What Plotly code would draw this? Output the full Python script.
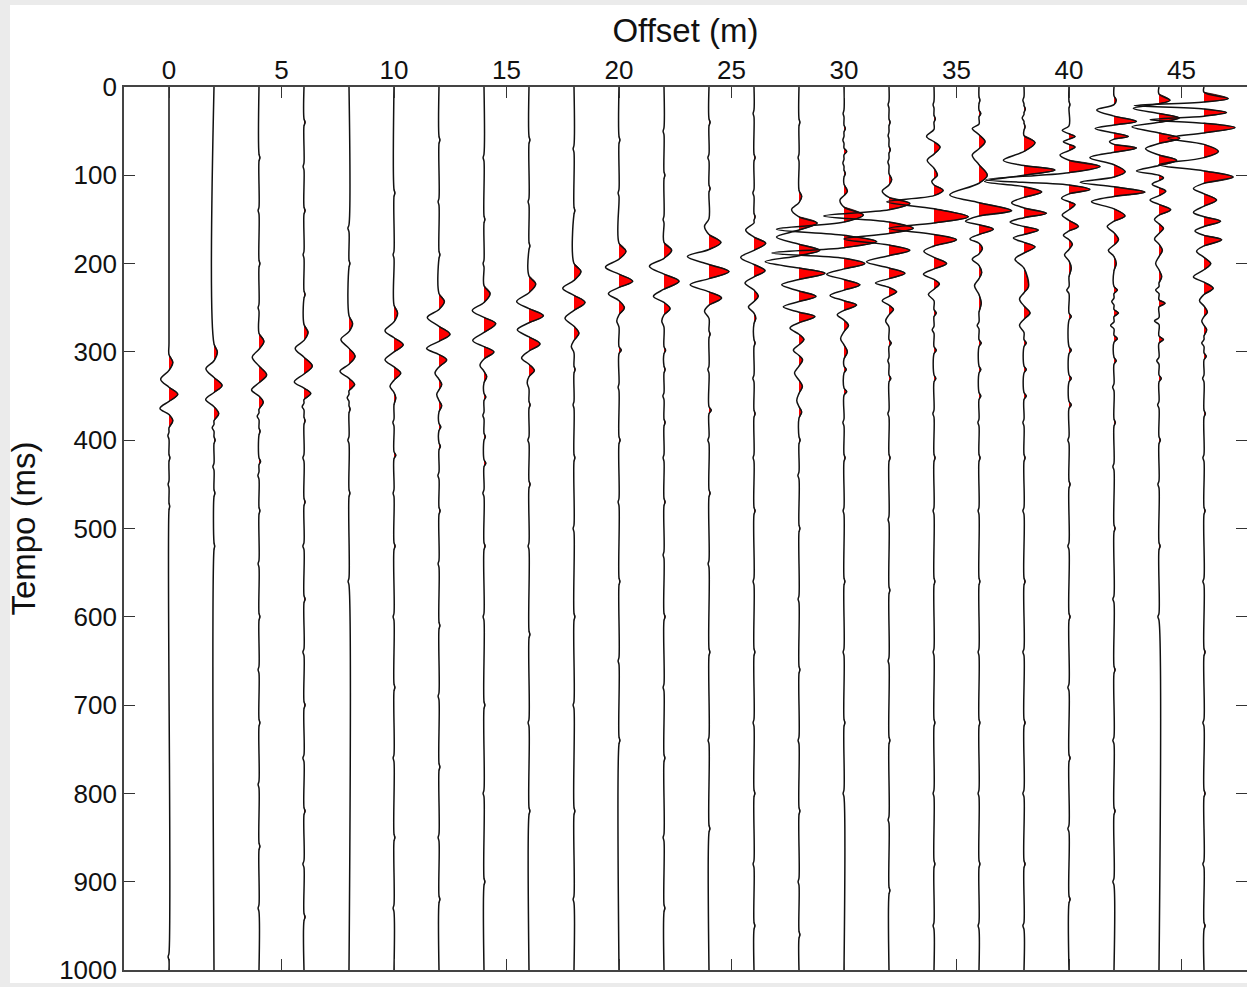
import plotly.graph_objects as go

# ---------------- data ----------------
# offsets (m) of the 24 traces
OFFSETS = [0, 2, 4, 6, 8, 10, 12, 14, 16, 18, 20, 22, 24, 26, 28, 30, 32, 34, 36, 38, 40, 42, 44, 46]
X_TICKS = [0, 5, 10, 15, 20, 25, 30, 35, 40, 45]
Y_TICKS = [0, 100, 200, 300, 400, 500, 600, 700, 800, 900, 1000]

# main wavelets: (time ms, amplitude in offset units); zero = baseline crossing
TR00 = [(0,0),(290,0),(303,0),(312,.17),(321,0),(331,-.37),(340,0),(348,.39),(356,0),(364,-.40),(371,0),(378,.17),(386,0),(1000,0)]
TR01 = [(0,0),(291,0),(300,.15),(310,0),(319,-.36),(329,0),(338,.36),(346,0),(354,-.37),(362,0),(370,.21),(378,0),(1000,0)]
TR02 = [(0,0),(279,0),(288,.22),(297,0),(306,-.30),(316,0),(326,.34),(335,0),(343,-.33),(350,0),(357,.19),(365,0),(1000,0)]
TR03 = [(0,0),(269,0),(278,.18),(287,0),(296,-.39),(306,0),(316,.37),(325,0),(334,-.43),(341,0),(347,.30),(354,0),(1000,0)]
TR04 = [(0,0),(259,0),(268,.16),(277,0),(286,-.36),(296,0),(305,.27),(314,0),(322,-.40),(330,0),(337,.25),(344,0),(1000,0)]
TR05 = [(0,0),(247,0),(256,.16),(266,0),(276,-.40),(284,0),(292,.41),(300,0),(309,-.40),(317,0),(324,.30),(332,0),(339,-.18),(346,0),(352,.08),(360,0),(1000,0)]
TR06 = [(0,0),(234,0),(243,.24),(252,0),(261,-.52),(271,0),(280,.49),(288,0),(296,-.55),(303,0),(309,.34),(317,0),(324,-.18),(331,0),(337,.12),(343,0),(348,-.10),(355,0),(361,.12),(368,0),(1000,0)]
TR07 = [(0,0),(225,0),(234,.27),(244,0),(253,-.52),(261,0),(268,.52),(278,0),(287,-.50),(294,0),(300,.44),(308,0),(315,-.18),(322,0),(328,.12),(335,0),(1000,0)]
TR08 = [(0,0),(214,0),(223,.30),(233,0),(243,-.55),(251,0),(259,.64),(267,0),(275,-.52),(283,0),(291,.49),(299,0),(307,-.33),(314,0),(321,.24),(328,0),(335,-.08),(342,0),(1000,0)]
TR09 = [(0,0),(200,0),(209,.31),(219,0),(228,-.50),(236,0),(244,.49),(253,0),(262,-.40),(271,0),(279,.22),(287,0),(294,-.12),(301,0),(1000,0)]
TR10 = [(0,0),(177,0),(186,.31),(195,0),(204,-.60),(212,0),(220,.61),(227,0),(234,-.47),(242,0),(250,.24),(258,0),(265,-.10),(272,0),(1000,0)]
TR11 = [(0,0),(176,0),(185,.34),(194,0),(203,-.65),(212,0),(220,.67),(229,0),(237,-.47),(244,0),(251,.27),(258,0),(265,-.10),(272,0),(1000,0)]
TR12 = [(0,0),(149,0),(158,-.20),(167,0),(176,.53),(184,0),(192,-.96),(201,0),(209,.89),(217,0),(224,-.84),(232,0),(239,.56),(247,0),(254,-.20),(262,0),(1000,0)]
TR13 = [(0,0),(154,0),(162,-.37),(170,0),(177,.52),(185,0),(193,-.59),(201,0),(208,.49),(215,0),(222,-.40),(230,0),(237,.19),(243,0),(249,-.25),(256,0),(262,.08),(268,0),(1000,0)]
TR14 = [(0,0),(117,0),(124,.12),(131,0),(139,-.33),(147,0),(154,.81),(162,0),(170,-1.0),(178,0),(185,.93),(191,0),(198,-1.5),(205,0),(211,1.16),(218,0),(224,-.77),(231,0),(237,.76),(243,0),(249,-.70),(255,0),(260,.71),(267,0),(273,-.40),(280,0),(286,.22),(292,0),(298,-.25),(304,0),(309,.16),(316,0),(324,-.2),(332,0),(339,.15),(347,0),(355,-.1),(362,0),(368,.12),(375,0),(1000,0)]
TR15 = [(0,0),(110,0),(118,.15),(123,0),(128,-.18),(136,0),(145,.86),(153,0),(161,-3.0),(168,0),(175,1.45),(182,0),(188,-3.2),(194,0),(200,.93),(206,0),(212,-.77),(218,0),(224,.71),(230,0),(236,-.62),(242,0),(247,.56),(253,0),(258,-.3),(264,0),(270,.2),(277,0),(285,-.15),(292,0),(300,.15),(308,0),(1000,0)]
TR16 = [(0,0),(98,0),(105,.12),(111,0),(118,-.3),(125,0),(132,.93),(139,0),(146,-2.9),(153,0),(160,1.08),(166,0),(172,-2.0),(179,0),(185,.93),(191,0),(198,-1.0),(205,0),(211,.71),(217,0),(222,-.6),(227,0),(232,.34),(237,0),(242,-.3),(247,0),(252,.2),(258,0),(265,-.15),(272,0),(1000,0)]
TR17 = [(0,0),(48,0),(56,-.33),(62,0),(68,.27),(76,0),(83,-.3),(92,0),(100,.15),(104,0),(107,-.1),(111,0),(117,.41),(123,0),(130,-2.1),(138,0),(147,1.53),(154,0),(160,-2.0),(167,0),(173,1.0),(180,0),(186,-.45),(193,0),(200,.56),(206,0),(212,-.47),(218,0),(223,.24),(229,0),(235,-.25),(242,0),(1000,0)]
TR18 = [(0,0),(42,0),(47,-.3),(54,0),(62,.27),(70,0),(77,-.3),(88,0),(100,.37),(109,0),(122,-1.3),(131,0),(140,1.45),(146,0),(152,-.6),(156,0),(161,.64),(167,0),(172,-.4),(177,0),(183,.15),(189,0),(195,-.3),(202,0),(210,.12),(217,0),(225,-.2),(235,0),(245,.1),(255,0),(1000,0)]
TR19 = [(0,0),(55,0),(63,.49),(73,0),(83,-.92),(89,0),(94,1.38),(100,0),(107,-1.75),(113,0),(119,.79),(125,0),(131,-.55),(137,0),(143,1.0),(148,0),(153,-.62),(158,0),(162,.64),(167,0),(171,-.47),(176,0),(181,.49),(188,0),(195,-.4),(205,0),(226,.2),(233,0),(240,-.2),(248,0),(256,.27),(263,0),(270,-.2),(278,0),(1000,0)]
TR20 = [(0,0),(44,0),(49,-.3),(53,0),(56,.27),(59,0),(62,-.25),(65,0),(68,.27),(72,0),(77,-.4),(83,0),(90,1.38),(97,0),(105,-3.7),(111,0),(116,.93),(121,0),(126,-.33),(130,0),(133,.27),(139,0),(145,-.3),(151,0),(158,.42),(163,0),(168,-.25),(173,0),(178,.15),(184,0),(190,-.2),(197,0),(205,.1),(215,0),(1000,0)]
TR21 = [(0,0),(10,0),(15,.1),(20,0),(26,-.77),(33,0),(39,1.0),(43,0),(47,-.84),(52,0),(56,.64),(59,0),(62,-.2),(65,0),(69,1.0),(74,0),(80,-1.07),(88,0),(96,.5),(102,0),(108,-1.5),(113,0),(119,1.38),(124,0),(130,-1.0),(138,0),(146,.49),(152,0),(158,-.3),(165,0),(173,.2),(179,0),(185,-.25),(192,0),(200,.1),(208,0),(1000,0)]
TR22 = [(0,0),(8,0),(15,.49),(19,0),(24,-1.14),(30,0),(35,.9),(40,0),(45,-1.2),(52,0),(58,.93),(64,0),(70,-.6),(77,0),(83,.79),(89,0),(95,-1.0),(100,0),(103,.2),(106,0),(110,-.3),(114,0),(118,.3),(123,0),(128,-.4),(133,0),(139,.52),(145,0),(150,-.2),(155,0),(160,.2),(166,0),(172,-.2),(178,0),(185,.15),(192,0),(200,-.15),(207,0),(215,.12),(222,0),(1000,0)]
TR23 = [(0,0),(6,0),(13,1.08),(17,0),(21,-3.1),(25,0),(29,1.0),(33,0),(37,-2.4),(41,0),(46,1.38),(52,0),(58,-1.6),(65,0),(73,.64),(80,0),(88,-2.0),(95,0),(102,1.3),(109,0),(115,-.47),(121,0),(128,.56),(135,0),(142,-.47),(147,0),(152,.74),(158,0),(163,-.4),(168,0),(173,.79),(180,0),(186,-.33),(193,0),(200,.3),(207,0),(215,-.47),(221,0),(228,.41),(235,0),(242,-.2),(248,0),(255,.15),(260,0),(265,-.1),(270,0),(275,.12),(282,0),(1000,0)]

# small isolated blips along the traces: (time ms, amplitude)
N00 = [(395,-.05),(420,.04),(450,-.04),(475,.03),(985,-.04)]
N01 = [(386,-.08),(400,.05),(430,-.05),(460,.04),(520,.03)]
N02 = [(80,.04),(140,-.04),(200,.04),(250,-.04),(373,-.08),(390,.05),(424,.07),(440,-.05),(480,.04),(540,-.04),(600,.04),(660,-.04),(720,.04),(790,-.04),(860,.04),(930,-.04)]
N03 = [(40,.05),(90,-.04),(140,.05),(190,-.04),(235,.05),(362,-.08),(378,.05),(420,-.05),(470,.05),(520,-.05),(580,.05),(640,-.05),(700,.05),(760,-.05),(820,.05),(880,-.05),(940,.05)]
N04 = [(160,-.05),(200,.04),(352,-.08),(365,.05),(400,-.05),(460,.04),(560,-.04)]
N05 = [(120,.04),(190,-.04),(380,-.05),(417,.08),(460,-.04),(520,.05),(600,-.04),(680,.04),(760,-.04),(850,.04),(930,-.04)]
N06 = [(60,.04),(130,-.04),(190,.04),(385,.08),(407,.06),(440,-.05),(480,.05),(540,-.04),(610,.04),(690,-.04),(770,.04),(850,-.04),(920,.04)]
N07 = [(80,-.04),(150,.04),(200,-.04),(351,.08),(372,-.05),(396,.06),(426,.08),(460,-.05),(520,.05),(600,-.04),(700,.04),(800,-.04),(900,.04)]
N08 = [(60,.04),(130,-.04),(180,.04),(360,.05),(400,-.05),(450,.05),(520,-.04),(620,.04),(720,-.04),(820,.04)]
N09 = [(70,-.04),(140,.04),(320,.05),(360,-.04),(420,.04),(500,-.04),(600,.04),(700,-.04),(820,.04),(920,-.04)]
N10 = [(60,.04),(120,-.04),(298,.10),(340,-.04),(400,.05),(470,-.04),(560,.04),(650,-.04),(740,.04)]
N11 = [(50,-.04),(100,.04),(150,-.04),(298,.07),(320,.05),(350,-.05),(380,.05),(420,-.04),(470,.05),(530,-.04),(600,.05),(680,-.04),(760,.04),(850,-.04),(930,.04)]
N12 = [(40,.05),(80,-.05),(115,.05),(280,.05),(320,-.05),(366,.10),(400,-.05),(460,.05),(540,-.04),(640,.04),(740,-.04),(840,.04)]
N13 = [(30,-.04),(80,.05),(120,-.05),(147,.05),(290,.05),(330,-.05),(370,.05),(420,-.04),(480,.05),(560,-.04),(640,.04),(720,-.04),(800,.04),(880,-.04),(950,.04)]
N14 = [(40,.04),(80,-.04),(400,.05),(440,-.05),(500,.04),(580,-.04),(660,.04),(740,-.04),(820,.04),(900,-.04),(960,.04)]
N15 = [(30,-.04),(47,.06),(60,-.05),(73,.12),(86,-.05),(98,.06),(320,.1),(345,.12),(380,-.05),(420,.05),(480,-.04),(560,.04),(640,-.04),(720,.04),(800,-.04)]
N16 = [(20,-.04),(40,.05),(55,-.04),(71,.06),(85,-.05),(290,.1),(310,-.05),(330,.08),(370,-.05),(420,.05),(490,-.04),(570,.04),(650,-.04),(740,.04),(830,-.04),(910,.04)]
N17 = [(20,-.04),(36,.06),(256,.1),(275,-.08),(298,.1),(330,.08),(370,-.05),(420,.05),(480,-.04),(560,.04),(640,-.04),(720,.04),(800,-.04),(880,.04),(950,-.04)]
N18 = [(15,.04),(30,.08),(270,-.08),(290,.1),(320,.08),(350,.08),(380,-.05),(420,.05),(480,-.04),(560,.04),(640,-.04),(720,.04),(800,-.04),(880,.04),(950,-.04)]
N19 = [(15,-.05),(25,.06),(35,-.08),(45,.05),(290,.1),(320,.1),(350,.1),(380,-.05),(420,.05),(480,-.05),(560,.05),(640,-.05),(720,.05),(800,-.05),(880,.05),(950,-.05)]
N20 = [(20,.04),(230,-.1),(260,.1),(298,.1),(330,.1),(360,.1),(400,-.05),(450,.05),(520,-.05),(600,.05),(680,-.05),(760,.05),(840,-.05),(920,.05)]
N21 = [(230,.15),(243,-.1),(256,.2),(270,-.15),(285,.15),(310,.1),(340,-.06),(380,.06),(430,-.05),(500,.05),(580,-.05),(660,.05),(740,-.05),(820,.05),(900,-.05)]
N22 = [(230,-.15),(245,.27),(265,-.2),(286,.2),(310,-.1),(330,.1),(360,-.06),(400,.06),(450,-.05),(520,.05),(600,-.05)]
N23 = [(290,-.1),(305,.1),(330,-.06),(370,.06),(420,-.05),(480,.05),(560,-.05),(640,.05),(720,-.05),(800,.05),(880,-.05),(950,.05)]

WAVELETS = [TR00, TR01, TR02, TR03, TR04, TR05, TR06, TR07, TR08, TR09, TR10, TR11,
            TR12, TR13, TR14, TR15, TR16, TR17, TR18, TR19, TR20, TR21, TR22, TR23]
BLIPS = [N00, N01, N02, N03, N04, N05, N06, N07, N08, N09, N10, N11,
         N12, N13, N14, N15, N16, N17, N18, N19, N20, N21, N22, N23]

# ---------------- build figure ----------------
FONT = "Liberation Sans, Arial, Helvetica, sans-serif"
RED = "#ff0000"
INK = "#111111"


def full_trace(main, blips):
    pts = list(main)
    for t, a in blips:
        pts += [(t - 4, 0), (t, a), (t + 4, 0)]
    pts.sort(key=lambda p: p[0])
    return pts


fills = []
lines = []
for off, main, blips in zip(OFFSETS, WAVELETS, BLIPS):
    pts = full_trace(main, blips)
    # positive lobes -> red fill
    fx, fy = [], []
    for i, (t, a) in enumerate(pts):
        if a > 0 and 0 < i < len(pts) - 1:
            t0 = pts[i - 1][0]
            t1 = pts[i + 1][0]
            fx += [off, off + a, off, None]
            fy += [t0, t, t1, None]
    fills.append(go.Scatter(x=fx, y=fy, mode="lines", fill="toself", fillcolor=RED,
                            line=dict(color=INK, width=0.8, shape="spline"),
                            hoverinfo="skip", showlegend=False, connectgaps=False))
    lines.append(go.Scatter(x=[off + a for t, a in pts], y=[t for t, a in pts], mode="lines",
                            line=dict(color=INK, width=1.5, shape="spline"),
                            hoverinfo="skip", showlegend=False))

fig = go.Figure(fills + lines)
# invisible helper trace for the right-hand tick axis
fig.add_trace(go.Scatter(x=[-50], y=[-50], yaxis="y2", mode="markers",
                         marker=dict(opacity=0), hoverinfo="skip", showlegend=False))

W, H = 1247, 987
ML, MR, MT, MB = 124, 0, 87, 17
PW = W - ML - MR
PH = H - MT - MB
x_per_px = 1.0 / 22.5
x0 = -2.0
x1 = x0 + PW * x_per_px

fig.update_layout(
    width=W, height=H,
    margin=dict(l=ML, r=MR, t=MT, b=MB, pad=0),
    paper_bgcolor="white", plot_bgcolor="white",
    font=dict(family=FONT, color="#111111"),
    xaxis=dict(range=[x0, x1], side="top", tickvals=X_TICKS, ticks="inside", ticklen=11,
               tickwidth=1.2, tickcolor="#333", showline=True, linecolor="#444", linewidth=1.6,
               mirror="ticks", showgrid=False, zeroline=False, ticklabelstandoff=-4,
               tickfont=dict(size=26, family=FONT),
               title=dict(text="Offset (m)", font=dict(size=33, family=FONT), standoff=2)),
    yaxis=dict(range=[1000, 0], tickvals=Y_TICKS, ticks="inside", ticklen=11, tickwidth=1.2,
               tickcolor="#333", showline=True, linecolor="#444", linewidth=1.6,
               showgrid=False, zeroline=False, tickfont=dict(size=26, family=FONT),
               title=dict(text="Tempo (ms)", font=dict(size=33, family=FONT), standoff=14)),
    yaxis2=dict(range=[1000, 0], overlaying="y", side="right", anchor="x", tickvals=Y_TICKS,
                ticks="inside", ticklen=11, tickwidth=1.2, tickcolor="#333", showline=False,
                showticklabels=False, showgrid=False, zeroline=False),
)

# light grey scan frame at top, left and bottom of the picture
def px_to_paper_x(px):
    return (px - ML) / PW

def px_to_paper_y(py):
    return (H - MB - py) / PH

for (xa, ya, xb, yb) in [(0, 0, W, 5), (0, 0, 10, H), (0, H - 4, W, H)]:
    fig.add_shape(type="rect", xref="paper", yref="paper",
                  x0=px_to_paper_x(xa), x1=px_to_paper_x(xb),
                  y0=px_to_paper_y(yb), y1=px_to_paper_y(ya),
                  line=dict(width=0), fillcolor="#ebebeb", layer="above")

fig.write_html("out.html", config={"displayModeBar": False},
               post_script="document.body.style.margin='0px';document.body.style.overflow='hidden';")
